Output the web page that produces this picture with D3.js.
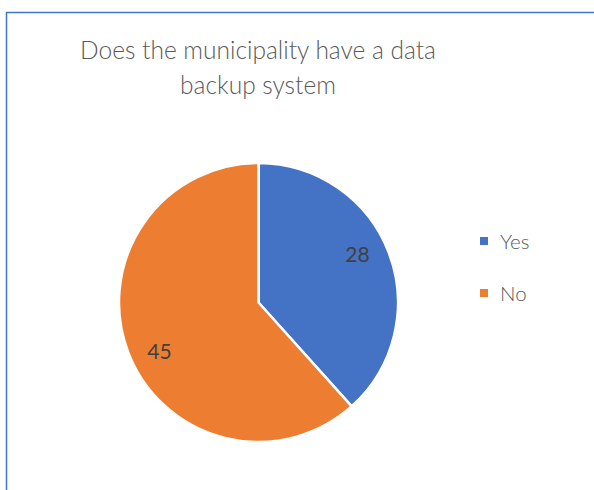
<!DOCTYPE html>
<html><head><meta charset="utf-8">
<script src="https://cdn.jsdelivr.net/npm/d3@7"></script>
<style>body{margin:0;background:#fff}svg{display:block}</style>
</head><body>
<svg id="c" width="594" height="490"></svg>
<script>
const categories = ["Yes", "No"];
const values = [28, 45];
const colors = ["#4472C4", "#ED7D31"];
const titleLines = ["Does the municipality have a data", "backup system"];

const svg = d3.select("#c");
const font = "Lato, 'Open Sans', sans-serif";
svg.append("rect").attr("x",6.5).attr("y",12.5).attr("width",600).attr("height",500)
  .attr("fill","#fff").attr("stroke","#4472C4").attr("stroke-width",1.5);

svg.append("g").selectAll("text").data(titleLines).join("text")
  .attr("x",258).attr("y",(d,i)=>59+i*35).attr("text-anchor","middle")
  .attr("font-family",font).attr("font-weight",300).attr("font-size",24.5).attr("fill","#595959").text(d=>d);

const cx=258.5, cy=302.5, r=139.5;
const pie = d3.pie().sort(null).value(d=>d)(values);
const arc = d3.arc().innerRadius(0).outerRadius(r);
const g = svg.append("g").attr("transform",`translate(${cx},${cy})`);
g.selectAll("path").data(pie).join("path").attr("d",arc)
  .attr("fill",(d,i)=>colors[i]).attr("stroke","#fff").attr("stroke-width",2.5).attr("stroke-linejoin","round");
const lr = r*0.79, shift = -0.09;
const labelArc = d3.arc().innerRadius(lr).outerRadius(lr);
g.selectAll("text").data(pie).join("text")
  .attr("transform",d=>`translate(${labelArc.centroid({startAngle:d.startAngle+shift,endAngle:d.endAngle+shift})})`)
  .attr("text-anchor","middle").attr("dy","0.36em")
  .attr("font-family",font).attr("font-size",21).attr("fill","#404040").text(d=>d.data);

const lg = svg.append("g");
categories.forEach((c,i)=>{
  const y = 241 + i*52;
  lg.append("rect").attr("x",480).attr("y",y-4).attr("width",8).attr("height",8).attr("fill",colors[i]);
  lg.append("text").attr("x",500).attr("y",y+7.5).attr("font-family",font).attr("font-weight",300).attr("font-size",20.5).attr("fill","#595959").text(c);
});
</script>
</body></html>
